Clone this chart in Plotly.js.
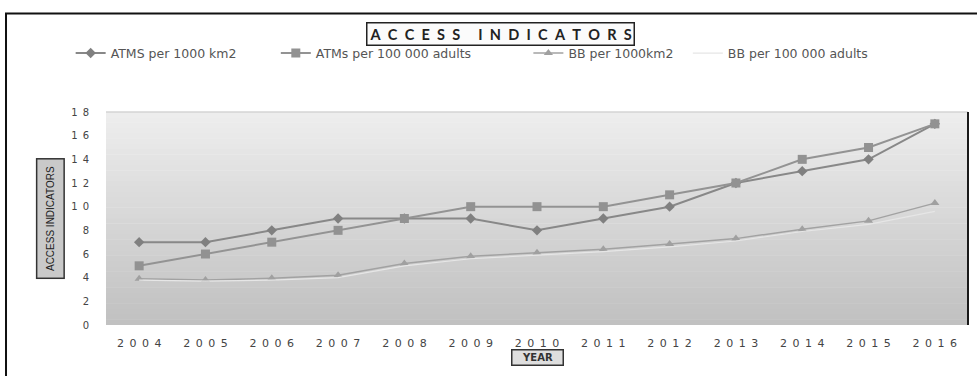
<!DOCTYPE html>
<html>
<head>
<meta charset="utf-8">
<script src="https://cdn.plot.ly/plotly-3.0.1.min.js"></script>
<style>html,body{margin:0;padding:0;background:#fff;}#chart{width:977px;height:376px;}</style>
</head>
<body>
<div id="chart"></div>
<script>
// ---- data ----
const years = ['2004','2005','2006','2007','2008','2009','2010','2011','2012','2013','2014','2015','2016'];
const atmsPer1000km2 = [7, 7, 8, 9, 9, 9, 8, 9, 10, 12, 13, 14, 17];
const atmsPer100kAdults = [5, 6, 7, 8, 9, 10, 10, 10, 11, 12, 14, 15, 17];
const bbPer1000km2 = [3.9, 3.8, 3.95, 4.2, 5.2, 5.8, 6.1, 6.4, 6.85, 7.3, 8.1, 8.8, 10.3];
const bbPer100kAdults = [3.8, 3.7, 3.8, 4.0, 5.0, 5.6, 5.9, 6.2, 6.6, 7.1, 7.9, 8.5, 9.6];
const seriesNames = ['ATMS per 1000 km2', 'ATMs per 100 000 adults', 'BB per 1000km2', 'BB per 100 000 adults'];
const yTicks = [0, 2, 4, 6, 8, 10, 12, 14, 16, 18];
const chartTitle = 'ACCESS INDICATORS';
const xTitle = 'YEAR';
const yTitle = 'ACCESS INDICATORS';

const sp = s => s.split('').join('\u2002');

const traces = [
  {x: years, y: atmsPer1000km2, name: seriesNames[0], type: 'scatter', mode: 'lines+markers', legend: 'legend',
   line: {color: '#888888', width: 2}, marker: {symbol: 'diamond', size: 8, color: '#808080'}},
  {x: years, y: atmsPer100kAdults, name: seriesNames[1], type: 'scatter', mode: 'lines+markers', legend: 'legend2',
   line: {color: '#939393', width: 2}, marker: {symbol: 'square', size: 9, color: '#929292'}},
  {x: years, y: bbPer1000km2, name: seriesNames[2], type: 'scatter', mode: 'lines+markers', legend: 'legend3',
   line: {color: '#a2a2a2', width: 1.5}, marker: {symbol: 'triangle-up', size: 8, color: '#a0a0a0'}},
  {x: years, y: bbPer100kAdults, name: seriesNames[3], type: 'scatter', mode: 'lines', legend: 'legend4',
   line: {color: '#e6e6e6', width: 1.2}}
];

// gradient background bands
const shapes = [];
const nBands = 40;
for (let i = 0; i < nBands; i++) {
  const t = i / nBands;
  const v = Math.round(0xc0 + (0xee - 0xc0) * (t + 0.5 / nBands));
  const c = 'rgb(' + v + ',' + v + ',' + v + ')';
  shapes.push({type: 'rect', xref: 'x domain', yref: 'y domain', x0: 0, x1: 1,
    y0: t, y1: (i + 1) / nBands + 0.002, fillcolor: c, line: {width: 0}, layer: 'below'});
}
// outer frame
shapes.push({type: 'rect', xref: 'paper', yref: 'paper', x0: -0.116, x1: 1.05, y0: -0.4, y1: 1.462,
  line: {color: '#111', width: 2}, fillcolor: 'rgba(0,0,0,0)', layer: 'above'});
// plot top light border
shapes.push({type: 'line', xref: 'paper', yref: 'paper', x0: 0, x1: 1, y0: 1, y1: 1,
  line: {color: '#c8c8c8', width: 1}});
// plot right dark edge
shapes.push({type: 'line', xref: 'paper', yref: 'paper', x0: 1, x1: 1, y0: 0, y1: 1,
  line: {color: '#1a1a1a', width: 2}});

const legFont = {family: 'DejaVu Sans', size: 12.5, color: '#555'};
function leg(x) {
  return {orientation: 'h', x: x, xanchor: 'left', y: 1.275, yanchor: 'middle',
    font: legFont, bgcolor: 'rgba(0,0,0,0)', borderwidth: 0};
}

const layout = {
  width: 977, height: 376,
  margin: {l: 106, r: 9, t: 112, b: 51},
  paper_bgcolor: '#ffffff',
  plot_bgcolor: 'rgba(0,0,0,0)',
  showlegend: true,
  legend: leg(-0.041),
  legend2: leg(0.197),
  legend3: leg(0.49),
  legend4: leg(0.675),
  xaxis: {type: 'category', range: [-0.5, 12.5], tickvals: years, ticktext: years.map(sp),
    showgrid: false, zeroline: false, showline: false,
    ticks: 'outside', ticklen: 8, tickcolor: 'rgba(0,0,0,0)',
    tickfont: {family: 'DejaVu Sans', size: 11, color: '#444'}},
  yaxis: {range: [0, 18], tickvals: yTicks, ticktext: yTicks.map(v => sp(String(v))),
    showgrid: false, zeroline: false, showline: false,
    ticks: 'outside', ticklen: 14, tickcolor: 'rgba(0,0,0,0)',
    tickfont: {family: 'DejaVu Sans', size: 10, color: '#444'}},
  shapes: shapes,
  annotations: [
    {text: '<b>' + chartTitle.split('').join('\u2002') + '</b>', xref: 'paper', yref: 'paper',
     x: 0.458, y: 1.3685, showarrow: false, xanchor: 'center', yanchor: 'middle',
     font: {family: 'Lato', size: 14.5, color: '#222'}, bordercolor: '#222', borderwidth: 1.5,
     borderpad: 2, bgcolor: '#fbfbfb'},
    {text: '<b>' + xTitle + '</b>', xref: 'paper', yref: 'paper', x: 0.5, y: -0.153, showarrow: false,
     xanchor: 'center', yanchor: 'middle', font: {family: 'DejaVu Sans', size: 10, color: '#333'},
     width: 48, height: 12,
     bordercolor: '#333', borderwidth: 1.5, borderpad: 1, bgcolor: '#dedede'},
    {text: yTitle, xref: 'paper', yref: 'paper', x: -0.065, y: 0.502, showarrow: false,
     textangle: -90, xanchor: 'center', yanchor: 'middle',
     font: {family: 'Liberation Sans Narrow, Liberation Sans', size: 10, color: '#222'},
     width: 116, height: 24,
     bordercolor: '#333', borderwidth: 1.5, borderpad: 1, bgcolor: '#c9c9c9'}
  ]
};

Plotly.newPlot('chart', traces, layout, {displayModeBar: false, staticPlot: true});
</script>
</body>
</html>
